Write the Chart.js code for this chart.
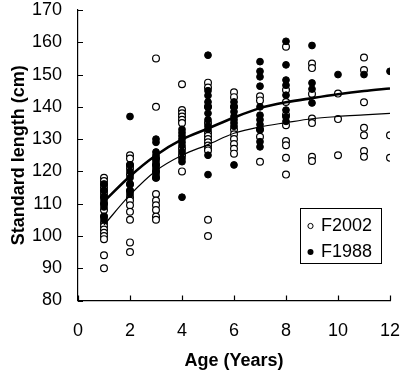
<!DOCTYPE html>
<html>
<head>
<meta charset="utf-8">
<script src="https://cdn.jsdelivr.net/npm/chart.js@4.4.1/dist/chart.umd.min.js"></script>
<style>
  body { margin:0; background:#fff; }
  canvas { display:block; }
</style>
</head>
<body>
<canvas id="growthChart" width="403" height="377"></canvas>
<script>
/* DATA */
const xTicks = [0, 2, 4, 6, 8, 10, 12];
const yTicks = [80, 90, 100, 110, 120, 130, 140, 150, 160, 170];

// F2002, open circles: lengths per age
const f2002Ages = [1, 2, 3, 4, 5, 6, 7, 8, 9, 10, 11, 12];
const f2002Lengths = [
  [118, 117, 116, 115, 114, 113, 112, 110, 108, 106, 104, 103, 102, 101, 100, 99, 94, 90],
  [125, 124, 122, 121, 119, 116, 114, 112, 111, 109.5, 107.5, 105, 98, 95],
  [155, 140, 124, 122, 120, 118, 113, 111, 109.5, 108, 106, 105],
  [147, 139, 138, 137, 136, 135, 127, 125, 120],
  [147.5, 146, 140, 135, 132, 131, 130, 129, 128, 127, 126.5, 105, 100],
  [144.5, 143, 140, 133, 131.5, 130, 128.5, 127, 125.5],
  [143.3, 142, 133, 130.7, 123],
  [158.6, 145.2, 141.5, 137.5, 134.3, 129.4, 128.1, 124.2, 119],
  [153.4, 152, 144, 136.4, 135, 124.5, 123.2],
  [144.1, 136.2, 125],
  [155.3, 151.4, 141.4, 133.5, 131.2, 126.3, 124.5],
  [131.2, 124.2]
];

// F1988, filled circles
const f1988Ages = [1, 2, 3, 4, 5, 6, 7, 8, 9, 10, 11, 12];
const f1988Lengths = [
  [116, 114, 112, 111, 110, 109, 106, 105],
  [137, 122, 120, 118, 116, 114, 113],
  [130, 129, 126, 125, 124, 123, 122, 121, 120, 119, 118],
  [133, 132, 131, 130, 129, 128, 126, 124, 123, 112],
  [156, 145, 143.5, 141.5, 140, 138, 136, 134, 133, 125, 119],
  [141.5, 140, 138.5, 137, 136, 135, 134, 122],
  [154, 151, 149.3, 146.4, 140, 137.4, 136, 134.5, 133, 129.2, 127.6],
  [160.3, 153, 148.3, 146.7, 143.6, 139, 136.9, 135.5],
  [159, 147.4, 145.5, 141.2],
  [150],
  [150],
  [151]
];

// fitted growth curves, read at each age
const curveAges = [1, 2, 3, 4, 5, 6, 7, 8, 9, 10, 11, 12];
const f2002Curve = [103.4, 112.7, 120.2, 125, 128.3, 131.8, 133.8, 135.1, 136.3, 137, 137.5, 138];
const f1988Curve = [110.7, 118.5, 125, 129.9, 133.3, 136.7, 139.6, 141.4, 142.7, 143.9, 144.9, 145.7];

const toPoints = (ages, lists) =>
  ages.flatMap((a, i) => lists[i].map(v => ({ x:a, y:v })));
const toLine = (ages, vals) => ages.map((a, i) => ({ x:a, y:vals[i] }));

/* inward tick marks on both axes */
const innerTicks = {
  id:"innerTicks",
  afterDraw(chart) {
    const { ctx, scales:{ x, y } } = chart;
    ctx.save();
    ctx.strokeStyle = "#000";
    ctx.lineWidth = 1.2;
    ctx.beginPath();
    yTicks.forEach(v => {
      const py = Math.round(y.getPixelForValue(v)) + 0.5;
      ctx.moveTo(x.left, py);
      ctx.lineTo(x.left + 5, py);
    });
    xTicks.forEach(v => {
      const px = Math.round(x.getPixelForValue(v)) + 0.5;
      ctx.moveTo(px, y.bottom);
      ctx.lineTo(px, y.bottom - 5);
    });
    ctx.stroke();
    ctx.restore();
  }
};

/* boxed legend inside the plot */
const legendBox = {
  id:"legendBox",
  afterDraw(chart) {
    const ctx = chart.ctx;
    ctx.save();
    ctx.strokeStyle = "#000";
    ctx.lineWidth = 1;
    ctx.strokeRect(300.5, 208.5, 81, 55);
    ctx.font = "18px 'Liberation Sans', Arial, sans-serif";
    ctx.fillStyle = "#000";
    ctx.textBaseline = "middle";
    ctx.fillText("F2002", 321, 226);
    ctx.fillText("F1988", 321, 252);
    ctx.beginPath();
    ctx.arc(310.5, 226, 2.6, 0, Math.PI * 2);
    ctx.fillStyle = "#fff";
    ctx.fill();
    ctx.stroke();
    ctx.beginPath();
    ctx.arc(310.5, 252, 3, 0, Math.PI * 2);
    ctx.fillStyle = "#000";
    ctx.fill();
    ctx.restore();
  }
};

const font = { family:"'Liberation Sans', Arial, sans-serif", size:18, lineHeight:1 };
const titleFont = { family:"'Liberation Sans', Arial, sans-serif", size:18, weight:"bold", lineHeight:1.2 };

new Chart(document.getElementById("growthChart"), {
  type:"scatter",
  data:{
    datasets:[
      {
        label:"F1988 fit",
        data:toLine(curveAges, f1988Curve),
        showLine:true,
        borderColor:"#000",
        borderWidth:2.6,
        pointRadius:0,
        cubicInterpolationMode:"monotone"
      },
      {
        label:"F2002 fit",
        data:toLine(curveAges, f2002Curve),
        showLine:true,
        borderColor:"#000",
        borderWidth:1.2,
        pointRadius:0,
        cubicInterpolationMode:"monotone"
      },
      {
        label:"F1988",
        data:toPoints(f1988Ages, f1988Lengths),
        pointRadius:3.4,
        borderWidth:1,
        borderColor:"#000",
        backgroundColor:"#000"
      },
      {
        label:"F2002",
        data:toPoints(f2002Ages, f2002Lengths),
        pointRadius:3.4,
        borderWidth:1.2,
        borderColor:"#000",
        backgroundColor:"#fff"
      }
    ]
  },
  options:{
    responsive:false,
    animation:false,
    layout:{ padding:{ top:10, right:13, left:0, bottom:0 } },
    plugins:{ legend:{ display:false }, tooltip:{ enabled:false } },
    scales:{
      x:{
        type:"linear",
        min:0, max:12,
        afterFit(s) { s.height = 76.5; s.paddingLeft = 0; s.paddingRight = 0; },
        afterBuildTicks(s) { s.ticks = xTicks.map(v => ({ value:v })); },
        grid:{ display:false, drawTicks:false },
        border:{ display:true, color:"#000", width:1.2 },
        ticks:{ color:"#000", font, padding:22, maxRotation:0 },
        title:{ display:true, text:"Age (Years)", color:"#000", font:titleFont, padding:{ top:0, bottom:5 } }
      },
      y:{
        type:"linear",
        min:80, max:170,
        afterFit(s) { s.width = 78; s.paddingTop = 0; s.paddingBottom = 0; },
        afterBuildTicks(s) { s.ticks = yTicks.map(v => ({ value:v })); },
        grid:{ display:false, drawTicks:false },
        border:{ display:true, color:"#000", width:1.2 },
        ticks:{ color:"#000", font, padding:16 },
        title:{ display:true, text:"Standard length (cm)", color:"#000", font:titleFont, padding:{ top:8, bottom:0 } }
      }
    }
  },
  plugins:[innerTicks, legendBox]
});
</script>
</body>
</html>
